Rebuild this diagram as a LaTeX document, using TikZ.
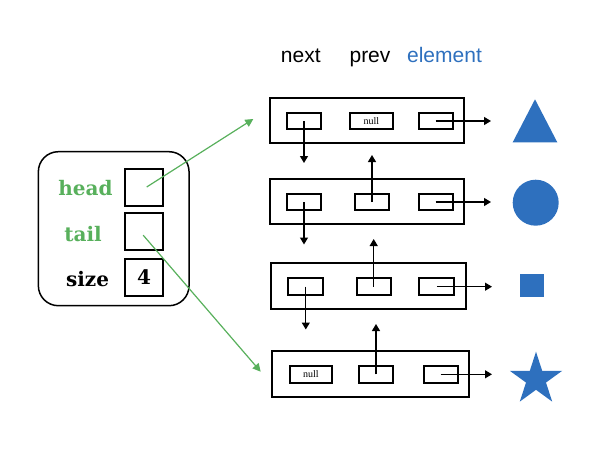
\documentclass[tikz,border=0pt]{standalone}
\usepackage{fontspec}
\setmainfont{Liberation Serif}
\newfontfamily\hdrfont{Liberation Sans}
\newfontfamily\lblfont{DejaVu Serif}
\usetikzlibrary{arrows.meta}
\definecolor{lgreen}{RGB}{88,176,92}
\definecolor{sblue}{RGB}{46,112,190}
\tikzset{
  nodebox/.style={draw,line width=2pt,inner sep=0pt,minimum width=194pt,minimum height=45pt},
  cell/.style={draw,line width=2pt,inner sep=0pt,minimum width=34pt,minimum height=16.5pt,font=\fontsize{10}{10}\selectfont},
  ptr/.style={line width=1.3pt,-{Triangle[length=7pt,width=8pt]}},
  gptr/.style={draw=lgreen,line width=1.2pt,-{Triangle[length=8pt,width=8pt]},lgreen},
  hdr/.style={font=\hdrfont\fontsize{21}{24}\selectfont,anchor=base,inner sep=0pt},
  lbl/.style={font=\lblfont\bfseries\fontsize{20}{24}\selectfont,anchor=base,inner sep=0pt},
  field/.style={draw,line width=2pt,inner sep=0pt,minimum width=38pt,minimum height=37pt},
  shp/.style={fill=sblue,draw=none}
}
\begin{document}
\begin{tikzpicture}[x=1pt,y=-1pt]
\useasboundingbox (0,0) rectangle (614,450);
% headers
\node[hdr] (hnext) at (300.8,62) {next};
\node[hdr] (hprev) at (370,62) {prev};
\node[hdr,text=sblue] (helem) at (444.5,62) {element};
% list object
\node[draw,line width=1.5pt,rounded corners=20pt,minimum width=150.7pt,minimum height=154pt,inner sep=0pt] (list) at (113.7,228.7) {};
\node[field] (fhead) at (144.2,187) {};
\node[field] (ftail) at (144.2,231.7) {};
\node[field,font=\lblfont\fontsize{20}{24}\selectfont\bfseries] (fsize) at (144.2,277) {4};
\node[lbl,text=lgreen] (lhead) at (85.5,195) {head};
\node[lbl,text=lgreen] (ltail) at (83,241.7) {tail};
\node[lbl] (lsize) at (87.5,286.7) {size};
% rows
\node[nodebox] (r1) at (367,120.3) {};
\node[cell] (r1n) at (304,121) {};
\node[cell,minimum width=42.7pt] (r1p) at (371.3,121) {null};
\node[cell] (r1e) at (435.5,121) {};
\node[nodebox] (r2) at (367,201.5) {};
\node[cell] (r2n) at (304,202) {};
\node[cell] (r2p) at (372,202) {};
\node[cell] (r2e) at (435.5,202) {};
\node[nodebox,minimum width=194.7pt,minimum height=45.7pt] (r3) at (368.3,286.2) {};
\node[cell,minimum width=35pt,minimum height=16.7pt] (r3n) at (305.8,286.7) {};
\node[cell,minimum height=16.7pt] (r3p) at (373.7,286.7) {};
\node[cell,minimum width=35pt,minimum height=16.7pt] (r3e) at (436.8,286.7) {};
\node[nodebox,minimum width=197.6pt,minimum height=46pt] (r4) at (370.5,373.7) {};
\node[cell,minimum width=41.7pt,minimum height=16.7pt] (r4n) at (310.8,374.3) {null};
\node[cell,minimum height=16.7pt] (r4p) at (376,374.3) {};
\node[cell,minimum height=16.7pt] (r4e) at (440.5,374.3) {};
% free ends
\coordinate (e1n) at (304,163);
\coordinate (e2n) at (304,244.5);
\coordinate (e3n) at (305.8,329.5);
\coordinate (e2p) at (372,155);
\coordinate (e3p) at (373.7,239);
\coordinate (e4p) at (376,324);
\coordinate (e1e) at (491,121);
\coordinate (e2e) at (491,202);
\coordinate (e3e) at (492,286.7);
\coordinate (e4e) at (492,374.3);
\coordinate (ghead) at (253.3,119);
\coordinate (gtail) at (260.7,371.7);
% pointers
\draw[ptr] (r1n.center) -- (e1n);
\draw[ptr] (r2n.center) -- (e2n);
\draw[ptr] (r3n.center) -- (e3n);
\draw[ptr] (r2p.center) -- (e2p);
\draw[ptr] (r3p.center) -- (e3p);
\draw[ptr] (r4p.center) -- (e4p);
\draw[ptr] (r1e.center) -- (e1e);
\draw[ptr] (r2e.center) -- (e2e);
\draw[ptr] (r3e.center) -- (e3e);
\draw[ptr] (r4e.center) -- (e4e);
\draw[gptr] ([xshift=2.5pt]fhead.center) -- (ghead);
\draw[gptr] ([xshift=-1pt,yshift=-3.5pt]ftail.center) -- (gtail);
% elements
\fill[shp] (535,99.3) -- (557.3,142.3) -- (512.7,142.3) -- cycle;
\fill[shp] (535.7,202.7) circle (23pt);
\fill[shp] (520,274) rectangle (544,297.3);
\fill[shp,shift={(536,379.3)}] (-90:27.6) -- (-54:10.5) -- (-18:27.6) -- (18:10.5) -- (54:27.6) -- (90:10.5) -- (126:27.6) -- (162:10.5) -- (198:27.6) -- (234:10.5) -- cycle;
\end{tikzpicture}
\end{document}
